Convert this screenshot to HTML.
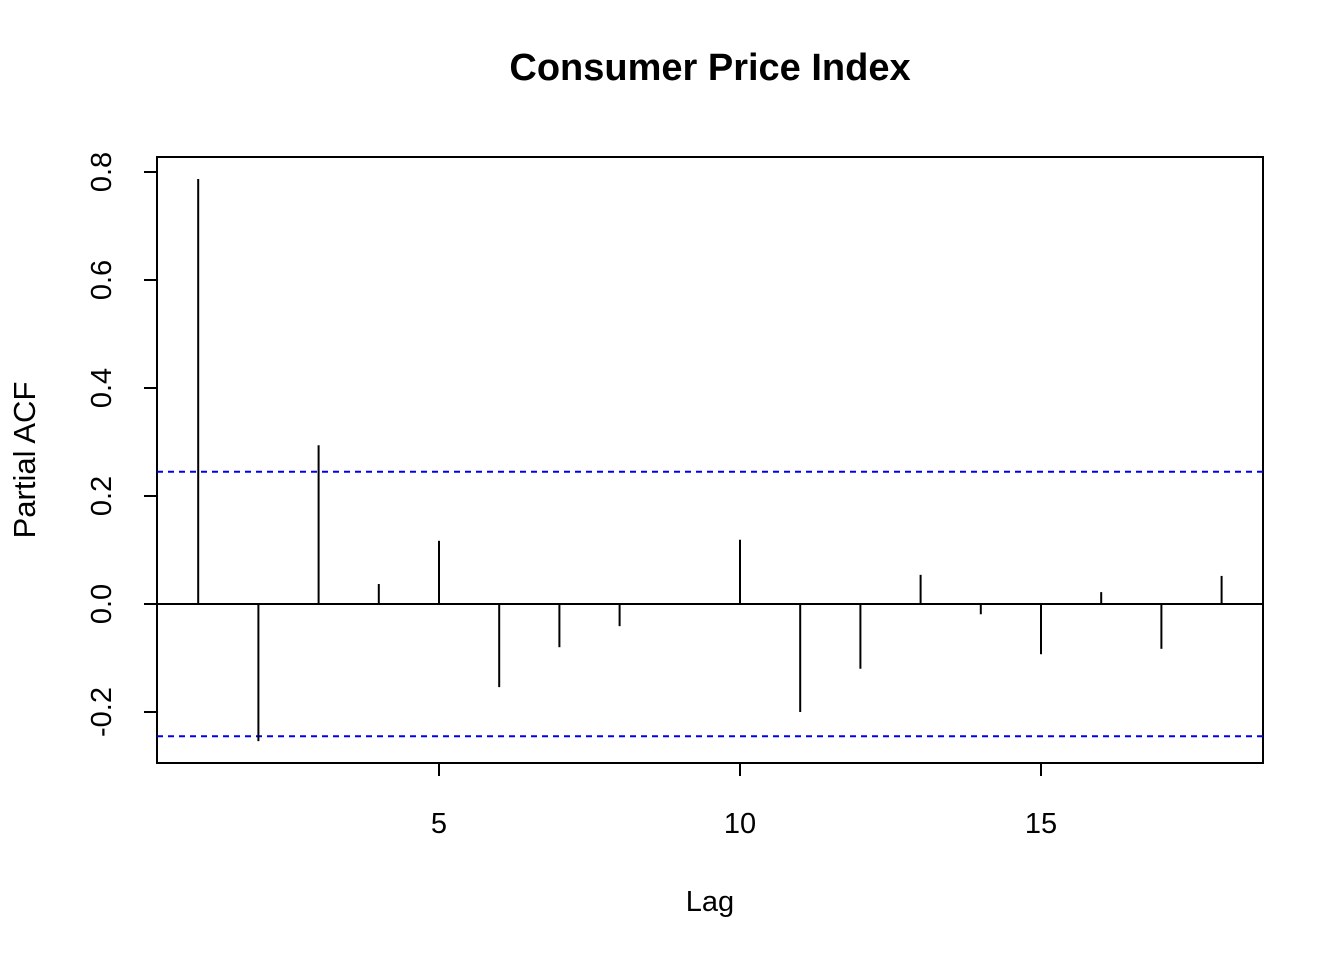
<!DOCTYPE html>
<html><head><meta charset="utf-8"><style>
html,body{margin:0;padding:0;background:#fff}
svg{display:block;font-family:"Liberation Sans",Arial,sans-serif}
</style></head><body>
<svg id="chart" width="1344" height="960">
<text x="710" y="80" text-anchor="middle" font-size="38" font-weight="bold">Consumer Price Index</text>
<rect x="157" y="157" width="1106" height="606" fill="none" stroke="#000" stroke-width="2"/>
<text x="710" y="911" text-anchor="middle" font-size="29">Lag</text>
<text transform="translate(35,460) rotate(-90)" text-anchor="middle" font-size="31">Partial ACF</text>
<g id="marks"></g>
</svg>
<script>
const lags=[1,2,3,4,5,6,7,8,9,10,11,12,13,14,15,16,17,18];
const pacf=[0.787,-0.254,0.294,0.037,0.117,-0.154,-0.080,-0.041,0.0,0.119,-0.200,-0.120,0.054,-0.019,-0.093,0.022,-0.083,0.052];
const ci=[0.245];
const xTicks=[5,10,15];
const yTicks=[-0.2,0.0,0.2,0.4,0.6,0.8];
const yTickLabels=["-0.2","0.0","0.2","0.4","0.6","0.8"];
const NS="http://www.w3.org/2000/svg";
const X=v=>439+(v-5)*60.2;
const Y=v=>604-v*540;
const g=document.getElementById('marks');
function mk(t,a){const e=document.createElementNS(NS,t);for(const k in a)e.setAttribute(k,a[k]);g.appendChild(e);return e;}
xTicks.forEach(v=>{
 const l=mk('line',{x1:X(v),x2:X(v),y1:763,y2:776,stroke:'#000','stroke-width':2});
 
 
 const t=mk('text',{x:X(v),y:833,'text-anchor':'middle','font-size':29});
 t.textContent=v;
 
 
});
yTicks.forEach((v,i)=>{
 const l=mk('line',{x1:144,x2:157,y1:Y(v),y2:Y(v),stroke:'#000','stroke-width':2});
 
 
 const t=mk('text',{transform:`translate(111,${Y(v)}) rotate(-90)`,'text-anchor':'middle','font-size':29});
 t.textContent=yTickLabels[i];
 
 
});
const z=mk('line',{x1:157,x2:1263,y1:Y(0),y2:Y(0),stroke:'#000','stroke-width':2});


[ci[0],-ci[0]].forEach(c=>{
 const l=mk('line',{x1:157,x2:1263,y1:Y(c),y2:Y(c),stroke:'#0000ee','stroke-width':2,'stroke-dasharray':'6,5'});
 
 
});
lags.forEach((k,i)=>{
 const l=mk('line',{x1:X(k),x2:X(k),y1:Y(0),y2:Y(pacf[i]),stroke:'#000','stroke-width':2});
 
 
});
</script>
</body></html>
